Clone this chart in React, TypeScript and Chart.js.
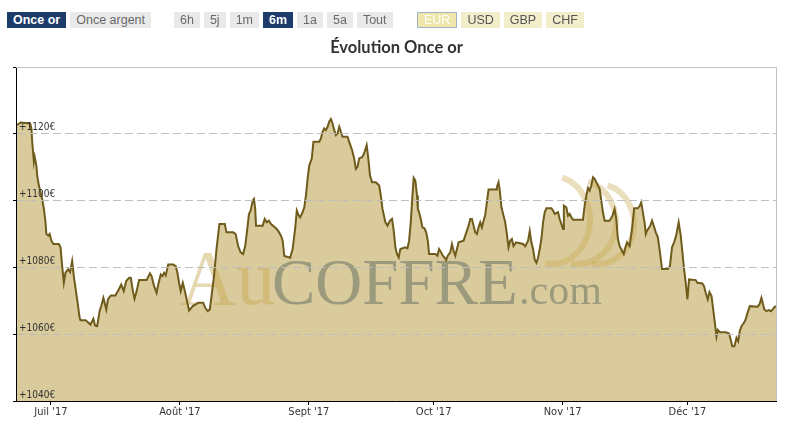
import React, { useEffect, useRef } from 'react';
import { Chart, registerables } from 'chart.js';

Chart.register(...registerables);

// Days counted from 1 July 2017 (0 = 1 Jul). Range ≈ 22 Jun → 22 Dec 2017.
const xMinDay = -8.4;
const xMaxDay = 174.3;
const monthTickDays = [0, 31, 62, 92, 123, 153];
const monthLabels = ["Juil '17", "Août '17", "Sept '17", "Oct '17", "Nov '17", "Déc '17"];
const yTicks = [1040, 1060, 1080, 1100, 1120, 1140];

const days = [
  -8.4, -7.3, -5.0, -4.7, -4.5, -4.1, -3.9, -3.5, -3.3, -2.9, -2.1, -1.7, -1.3, -1.1, -0.6, -0.3,
  0.1, 0.6, 1.9, 2.3, 2.7, 3.1, 3.5, 4.1, 4.6, 5.1, 5.5, 6.3, 6.9, 7.1, 8.3, 8.9, 9.5, 10.2, 10.6,
  11.1, 11.7, 12.2, 12.6, 12.9, 13.3, 13.7, 14.4, 15.5, 16.3, 16.9, 17.5, 18.1, 18.8, 19.2, 19.7,
  20.1, 20.6, 21.2, 23.0, 23.8, 24.2, 24.8, 25.4, 25.8, 26.4, 26.8, 27.2, 27.6, 28.2, 29.4, 30.0,
  30.4, 30.8, 31.2, 31.7, 32.2, 32.8, 33.2, 34.1, 35.4, 36.6, 37.1, 37.7, 38.2, 38.6, 39.2, 39.8,
  40.5, 41.8, 42.2, 43.8, 44.4, 45.0, 45.6, 46.2, 46.7, 47.2, 47.6, 48.0, 48.5, 48.8, 49.1, 49.3,
  50.9, 51.4, 51.9, 52.4, 52.9, 54.1, 54.6, 55.3, 55.7, 56.1, 57.5, 58.1, 58.7, 59.1, 59.5, 59.9,
  60.5, 60.9, 61.3, 61.7, 62.1, 62.7, 63.1, 64.5, 64.9, 65.3, 65.7, 66.1, 66.5, 66.9, 67.3, 67.7,
  68.1, 68.5, 68.9, 69.3, 69.7, 70.1, 71.3, 71.7, 72.4, 72.9, 73.3, 73.7, 74.1, 74.9, 75.4, 75.9,
  76.3, 76.7, 77.2, 78.1, 78.9, 79.3, 79.7, 80.4, 80.9, 81.5, 82.0, 82.4, 82.8, 83.2, 83.6, 84.0,
  85.2, 85.7, 86.1, 86.5, 86.9, 87.2, 87.6, 88.0, 88.2, 88.5, 88.9, 89.3, 89.8, 90.2, 90.6, 90.9,
  92.4, 92.9, 93.3, 93.8, 94.2, 94.6, 95.0, 95.4, 96.0, 96.4, 96.8, 97.2, 97.6, 98.0, 99.2, 99.6,
  100.0, 100.4, 100.8, 101.2, 101.6, 102.0, 102.4, 102.8, 103.2, 103.6, 104.0, 104.4, 104.8, 105.2,
  107.0, 107.2, 107.6, 107.9, 108.3, 108.8, 109.2, 109.6, 110.0, 110.4, 110.8, 111.2, 111.8, 113.5,
  114.0, 114.7, 115.1, 115.5, 115.9, 116.3, 116.7, 117.1, 117.5, 117.9, 118.3, 118.7, 119.1, 120.3,
  120.7, 121.1, 121.9, 122.3, 122.7, 123.1, 123.3, 123.9, 124.3, 124.7, 125.1, 125.5, 127.9, 128.3,
  128.7, 129.1, 129.5, 129.9, 130.3, 130.7, 131.3, 131.9, 132.3, 132.7, 133.1, 134.3, 135.0, 135.5,
  135.9, 136.3, 136.7, 137.3, 137.7, 138.0, 138.5, 139.1, 139.7, 140.2, 141.1, 141.6, 141.9, 142.3,
  142.7, 143.0, 143.3, 144.1, 144.5, 144.9, 145.4, 145.9, 146.4, 146.9, 148.3, 148.8, 149.3, 149.8,
  150.3, 150.9, 151.4, 151.8, 152.2, 152.6, 153.0, 153.4, 155.0, 155.4, 156.6, 157.0, 157.4, 157.9,
  158.3, 158.8, 159.2, 159.6, 160.0, 160.3, 160.8, 162.2, 163.0, 163.4, 163.8, 164.3, 164.8, 165.2,
  165.6, 166.0, 166.6, 167.0, 167.4, 168.0, 169.9, 170.4, 170.8, 171.2, 171.5, 172.0, 172.6, 173.1,
  173.6, 174.0, 174.3,
];

const prices = [
  1122.4, 1123.4, 1123.1, 1121.6, 1117.6, 1111.6, 1113.1, 1110.5, 1107.5, 1104.5, 1100.5, 1097.5, 1093.5, 1090.0, 1089.5, 1090.0,
  1088.0, 1087.0, 1087.0, 1086.0, 1080.4, 1075.4, 1078.4, 1079.4, 1078.6, 1081.9, 1077.4, 1070.4, 1064.9, 1064.2, 1064.2, 1063.6, 1062.9, 1064.6, 1062.6,
  1062.4, 1066.9, 1068.9, 1070.9, 1069.4, 1067.4, 1070.4, 1071.6, 1071.6, 1073.4, 1074.9, 1072.9, 1075.9, 1076.9, 1076.9, 1072.9,
  1070.6, 1072.9, 1076.2, 1076.2, 1078.2, 1077.4, 1074.4, 1072.4, 1074.9, 1077.9, 1077.4, 1078.4, 1077.6, 1080.9, 1080.9, 1080.4,
  1078.4, 1075.4, 1072.9, 1075.4, 1072.9, 1069.4, 1067.1, 1068.4, 1069.4, 1069.4, 1067.9, 1066.9, 1067.4, 1071.4, 1077.4, 1085.5,
  1093.0, 1093.0, 1090.5, 1090.5, 1090.0, 1086.4, 1084.5, 1084.0, 1086.4, 1091.5, 1096.0, 1097.0, 1100.0, 1100.5, 1097.5, 1092.5,
  1092.5, 1094.5, 1093.5, 1094.0, 1093.0, 1091.7, 1091.0, 1089.5, 1088.0, 1083.4, 1082.9, 1085.5, 1091.5, 1097.0, 1095.7, 1095.0,
  1096.5, 1098.0, 1101.5, 1106.5, 1110.5, 1112.6, 1117.6, 1117.6, 1118.6, 1120.6, 1121.6, 1121.1, 1122.1, 1123.6, 1124.4, 1123.1,
  1121.1, 1119.6, 1120.1, 1122.1, 1120.6, 1119.1, 1119.1, 1117.6, 1115.1, 1112.6, 1109.5, 1110.1, 1112.6, 1113.1, 1114.6, 1116.6,
  1112.6, 1107.5, 1105.5, 1105.5, 1104.5, 1101.5, 1097.5, 1093.5, 1092.5, 1094.0, 1094.5, 1091.0, 1086.0, 1084.0, 1083.0, 1085.5,
  1086.0, 1085.7, 1088.0, 1093.5, 1101.5, 1106.8, 1106.0, 1101.5, 1097.5, 1096.5, 1094.5, 1092.0, 1091.7, 1090.5, 1088.0, 1084.0,
  1084.0, 1083.5, 1085.5, 1084.5, 1083.5, 1083.0, 1082.2, 1083.5, 1084.5, 1087.0, 1085.0, 1083.5, 1085.5, 1087.5, 1088.0, 1089.5,
  1091.0, 1092.5, 1094.5, 1094.5, 1092.5, 1090.5, 1090.0, 1092.0, 1093.5, 1092.0, 1094.0, 1095.7, 1099.5, 1103.3,
  1103.3, 1104.0, 1105.5, 1103.0, 1098.0, 1095.5, 1093.5, 1090.0, 1086.0, 1088.0, 1088.5, 1086.4, 1087.5, 1087.0,
  1086.3, 1088.0, 1090.9, 1087.5, 1085.5, 1082.3, 1081.4, 1082.9, 1085.5, 1088.5, 1093.5, 1096.5, 1097.7, 1097.7,
  1097.0, 1096.0, 1096.5, 1094.5, 1093.0, 1091.5, 1098.5, 1098.0, 1095.5, 1096.0, 1095.0, 1094.3, 1094.3, 1098.5,
  1101.5, 1103.8, 1103.0, 1104.5, 1107.0, 1106.5, 1105.0, 1103.5, 1100.0, 1096.5, 1094.0, 1094.0, 1095.5, 1097.5,
  1094.5, 1088.5, 1086.4, 1084.9, 1084.0, 1085.5, 1087.5, 1086.4, 1091.5, 1097.7, 1097.7, 1098.5, 1099.5, 1096.5,
  1093.5, 1090.0, 1091.0, 1092.5, 1094.0, 1092.5, 1090.5, 1089.0, 1084.5, 1079.5, 1079.5, 1080.4, 1086.0, 1087.5,
  1089.5, 1093.5, 1089.5, 1084.5, 1079.5, 1075.4, 1070.4, 1076.4, 1076.2, 1075.4, 1075.2, 1074.4, 1072.4, 1070.4,
  1072.6, 1071.4, 1067.4, 1063.4, 1059.3, 1061.3, 1060.6, 1060.6, 1060.2, 1058.4, 1056.4, 1056.4, 1058.9, 1057.9,
  1060.9, 1062.4, 1063.4, 1064.4, 1066.2, 1068.4, 1068.2, 1069.2, 1070.9, 1068.9, 1067.4, 1066.9, 1067.2, 1066.9,
  1067.6, 1068.2, 1068.4,
];

const metalButtons = [
  { label: 'Once or', active: true },
  { label: 'Once argent', active: false },
];
const periodButtons = [
  { label: '6h', active: false },
  { label: '5j', active: false },
  { label: '1m', active: false },
  { label: '6m', active: true },
  { label: '1a', active: false },
  { label: '5a', active: false },
  { label: 'Tout', active: false },
];
const currencyButtons = [
  { label: 'EUR', active: true },
  { label: 'USD', active: false },
  { label: 'GBP', active: false },
  { label: 'CHF', active: false },
];

const chartTitle = 'Évolution Once or';

const AXIS_FONT = '"DejaVu Sans Condensed", "DejaVu Sans", sans-serif';

const decorPlugin = {
  id: 'decor',
  afterDatasetDraw(chart: any, args: any) {
    if (args.index !== 1) return;
    const { ctx, chartArea: ca } = chart;
    ctx.save();
    ctx.beginPath();
    ctx.rect(ca.left, ca.top, ca.right - ca.left, ca.bottom - ca.top);
    ctx.clip();
    const base = ca.top + 237;
    ctx.textBaseline = 'alphabetic';
    ctx.textAlign = 'left';
    ctx.font = '78px "Liberation Serif", serif';
    ctx.fillStyle = 'rgba(200,168,80,0.45)';
    ctx.fillText('Au', ca.left + 164, base);
    ctx.font = '65px "Liberation Serif", serif';
    ctx.fillStyle = 'rgba(105,115,100,0.55)';
    ctx.fillText('COFFRE', ca.left + 256, base);
    ctx.font = '42px "Liberation Serif", serif';
    ctx.fillText('.com', ca.left + 503, base);
    // logo rings
    ctx.strokeStyle = 'rgba(200,168,80,0.38)';
    ctx.lineWidth = 6;
    const rings = [
      { cx: 552, cy: 220, rx: 38, ry: 44 },
      { cx: 578, cy: 222, rx: 38, ry: 42 },
      { cx: 598, cy: 224, rx: 36, ry: 40 },
    ];
    rings.forEach((r) => {
      ctx.beginPath();
      ctx.ellipse(r.cx, r.cy, r.rx, r.ry, 0, -1.3, 1.75);
      ctx.stroke();
    });
    ctx.restore();
  },
  afterDraw(chart: any) {
    const { ctx, chartArea: ca } = chart;
    ctx.save();
    ctx.strokeStyle = '#c0c0c0';
    ctx.lineWidth = 1;
    ctx.beginPath();
    ctx.moveTo(ca.left, ca.top + 0.5);
    ctx.lineTo(ca.right + 0.5, ca.top + 0.5);
    ctx.lineTo(ca.right + 0.5, ca.bottom);
    ctx.stroke();
    ctx.restore();
  },
};

function Btn({ label, active, kind }: { label: string; active: boolean; kind: 'nav' | 'cur' }) {
  let style: React.CSSProperties = {
    display: 'inline-block',
    height: 16,
    lineHeight: '16px',
    padding: '0 6px',
    marginRight: 4,
    fontFamily: '"Liberation Sans", Arial, sans-serif',
    fontSize: 12.5,
    boxSizing: 'border-box',
    whiteSpace: 'nowrap',
  };
  if (kind === 'nav') {
    style = active
      ? { ...style, background: '#1d3c6b', color: '#fff', fontWeight: 'bold' }
      : { ...style, background: '#e9e9e9', color: '#6a6a6a' };
  } else {
    style = active
      ? { ...style, background: '#eee7a9', color: '#fff', border: '1px solid #9fb2c8', lineHeight: '14px' }
      : { ...style, background: '#f2eecb', color: '#555' };
  }
  return <span style={style}>{label}</span>;
}

export default function App() {
  const canvasRef = useRef<HTMLCanvasElement | null>(null);

  useEffect(() => {
    if (!canvasRef.current) return;
    const points = days.map((d, i) => ({ x: d, y: prices[i] }));
    const chart = new Chart(canvasRef.current, {
      type: 'line',
      data: {
        datasets: [
          {
            label: 'line',
            data: points,
            borderColor: '#6f5b1b',
            borderWidth: 2,
            fill: false,
            pointRadius: 0,
            tension: 0,
          },
          {
            label: 'area',
            data: points,
            borderWidth: 0,
            backgroundColor: '#dacb9c',
            fill: 'start',
            pointRadius: 0,
            tension: 0,
          },
        ],
      },
      options: {
        responsive: false,
        animation: false,
        layout: { padding: { left: 16, right: 12, top: 67, bottom: 0 } },
        plugins: {
          legend: { display: false },
          tooltip: { enabled: false },
          title: { display: false },
        },
        scales: {
          x: {
            type: 'linear',
            min: xMinDay,
            max: xMaxDay,
            bounds: 'data',
            afterBuildTicks: (s: any) => {
              s.ticks = monthTickDays.map((v) => ({ value: v }));
            },
            afterFit: (s: any) => {
              s.height = 27;
            },
            ticks: {
              autoSkip: false,
              maxRotation: 0,
              padding: 1,
              color: '#333',
              font: { family: AXIS_FONT, size: 11 },
              callback: (_v: any, i: number) => monthLabels[i],
              z: 1,
            } as any,
            grid: { drawOnChartArea: false, drawTicks: true, tickLength: 4, tickColor: '#000', z: 1 } as any,
            border: { display: true, color: '#000', width: 1, z: 1 } as any,
          },
          y: {
            type: 'linear',
            min: 1040,
            max: 1140,
            afterBuildTicks: (s: any) => {
              s.ticks = yTicks.map((v) => ({ value: v }));
            },
            afterFit: (s: any) => {
              s.width = 0;
            },
            ticks: {
              mirror: true,
              padding: 3,
              labelOffset: -6,
              color: '#333',
              font: { family: AXIS_FONT, size: 10 },
              callback: (v: any) => (v === 1140 ? '' : '+' + v + '€'),
              z: 1,
            } as any,
            grid: {
              color: (c: any) =>
                c.tick && (c.tick.value === 1140 || c.tick.value === 1040) ? 'rgba(0,0,0,0)' : '#bdbdbd',
              tickLength: 3,
              tickColor: '#000',
              z: 1,
            } as any,
            border: { display: true, color: '#000', width: 1, dash: [8, 4], z: 1 } as any,
          },
        },
      },
      plugins: [decorPlugin],
    });
    return () => chart.destroy();
  }, []);

  return (
    <div style={{ position: 'absolute', left: 0, top: 0, width: 788, height: 428, background: '#fff', overflow: 'hidden' }}>
      <canvas ref={canvasRef} width={788} height={428} style={{ position: 'absolute', left: 0, top: 0 }} />
      <div style={{ position: 'absolute', left: 7, top: 12, display: 'flex' }}>
        {metalButtons.map((b) => (
          <Btn key={b.label} label={b.label} active={b.active} kind="nav" />
        ))}
      </div>
      <div style={{ position: 'absolute', left: 174, top: 12, display: 'flex' }}>
        {periodButtons.map((b) => (
          <Btn key={b.label} label={b.label} active={b.active} kind="nav" />
        ))}
      </div>
      <div style={{ position: 'absolute', left: 417, top: 12, display: 'flex' }}>
        {currencyButtons.map((b) => (
          <Btn key={b.label} label={b.label} active={b.active} kind="cur" />
        ))}
      </div>
      <div
        style={{
          position: 'absolute',
          left: 0,
          width: 793,
          top: 37,
          textAlign: 'center',
          fontFamily: 'Lato, "Open Sans", sans-serif',
          fontWeight: 'bold',
          fontSize: 16.5,
          color: '#333',
        }}
      >
        {chartTitle}
      </div>
    </div>
  );
}
